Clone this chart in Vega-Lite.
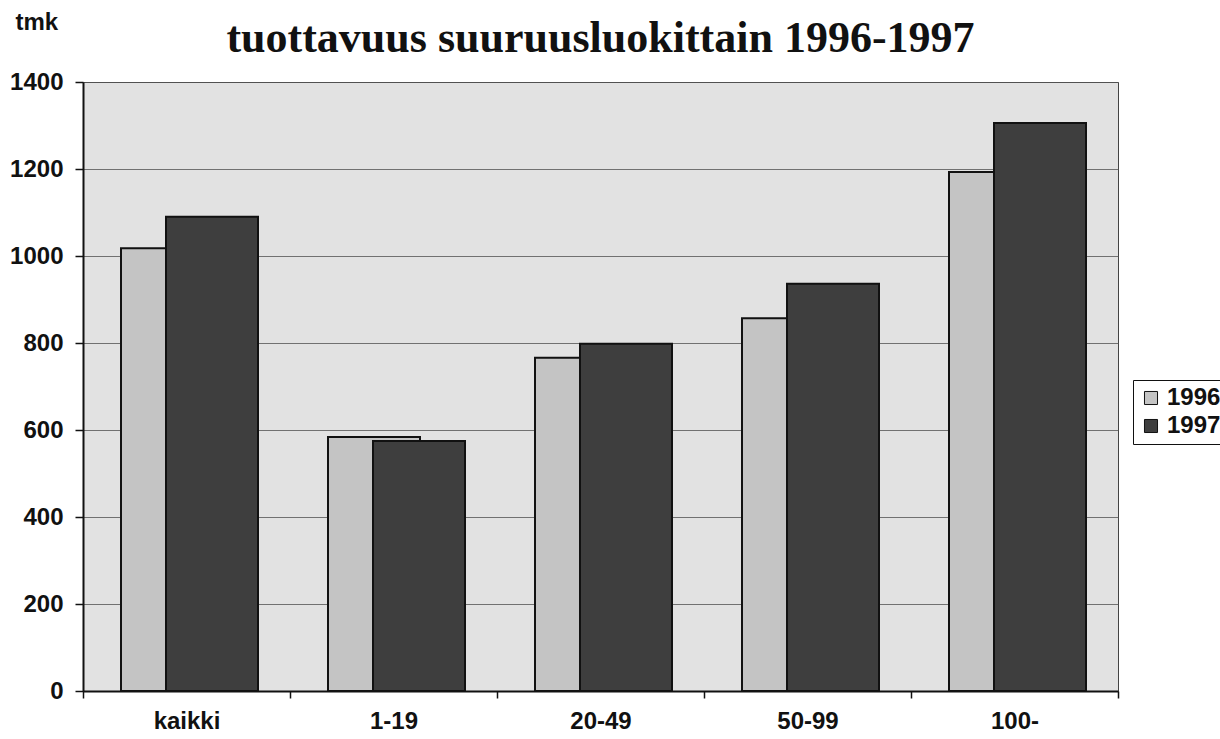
{
  "$schema": "https://vega.github.io/schema/vega-lite/v6.json",
  "autosize": {"type": "none"},
  "width": 1035,
  "height": 609,
  "padding": {"left": 83, "top": 82, "right": 102, "bottom": 48},
  "background": "white",
  "title": {
    "text": "tuottavuus suuruusluokittain 1996-1997",
    "font": "Liberation Serif",
    "fontSize": 44,
    "fontWeight": "bold",
    "color": "#111",
    "anchor": "middle",
    "frame": "group",
    "baseline": "alphabetic",
    "offset": 29,
    "dy": 115
  },
  "data": {
    "values": [
      {"luokka": "kaikki", "vuosi": "1996", "tmk": 1018},
      {"luokka": "kaikki", "vuosi": "1997", "tmk": 1090},
      {"luokka": "1-19", "vuosi": "1996", "tmk": 584},
      {"luokka": "1-19", "vuosi": "1997", "tmk": 575},
      {"luokka": "20-49", "vuosi": "1996", "tmk": 766},
      {"luokka": "20-49", "vuosi": "1997", "tmk": 798},
      {"luokka": "50-99", "vuosi": "1996", "tmk": 857},
      {"luokka": "50-99", "vuosi": "1997", "tmk": 936},
      {"luokka": "100-", "vuosi": "1996", "tmk": 1193},
      {"luokka": "100-", "vuosi": "1997", "tmk": 1306}
    ]
  },
  "config": {
    "view": {"fill": "#e2e2e2", "stroke": "#444", "strokeWidth": 1},
    "axis": {
      "labelFont": "Liberation Sans",
      "labelFontWeight": "bold",
      "labelFontSize": 24,
      "labelColor": "#111",
      "domainColor": "#111",
      "domainWidth": 2,
      "tickColor": "#111",
      "tickWidth": 1.5
    }
  },
  "encoding": {
    "x": {
      "field": "luokka",
      "type": "nominal",
      "sort": ["kaikki", "1-19", "20-49", "50-99", "100-"],
      "scale": {"paddingInner": 0, "paddingOuter": 0},
      "axis": {
        "title": null,
        "labelAngle": 0,
        "tickBand": "extent",
        "tickSize": 7,
        "labelPadding": 11,
        "grid": false
      }
    },
    "y": {
      "field": "tmk",
      "type": "quantitative",
      "scale": {"domain": [0, 1400], "nice": false},
      "axis": {
        "values": [0, 200, 400, 600, 800, 1000, 1200, 1400],
        "format": "d",
        "title": "tmk",
        "titleAngle": 0,
        "titleAlign": "left",
        "titleBaseline": "alphabetic",
        "titleX": -68,
        "titleY": -53,
        "titleFont": "Liberation Sans",
        "titleFontWeight": "bold",
        "titleFontSize": 24,
        "titleColor": "#111",
        "tickSize": 8,
        "labelPadding": 12,
        "grid": true,
        "gridColor": "#555",
        "gridWidth": 1,
        "gridOpacity": 0.8
      }
    },
    "color": {
      "field": "vuosi",
      "type": "nominal",
      "scale": {"domain": ["1996", "1997"], "range": ["#c4c4c4", "#3e3e3e"]},
      "legend": {
        "title": null,
        "orient": "none",
        "legendX": 1050,
        "legendY": 298,
        "strokeColor": "#111",
        "fillColor": "white",
        "padding": 6,
        "symbolType": "square",
        "symbolSize": 170,
        "symbolStrokeColor": "#111",
        "symbolStrokeWidth": 1,
        "symbolOpacity": 1,
        "labelFont": "Liberation Sans",
        "labelFontWeight": "bold",
        "labelFontSize": 24,
        "labelColor": "#111",
        "rowPadding": 4,
        "labelOffset": 4
      }
    }
  },
  "layer": [
    {
      "transform": [{"filter": "datum.vuosi == '1996'"}],
      "mark": {"type": "bar", "width": 92, "xOffset": -19.5, "stroke": "#111", "strokeWidth": 2, "opacity": 1}
    },
    {
      "transform": [{"filter": "datum.vuosi == '1997'"}],
      "mark": {"type": "bar", "width": 92, "xOffset": 25.5, "stroke": "#111", "strokeWidth": 2, "opacity": 1}
    }
  ]
}
